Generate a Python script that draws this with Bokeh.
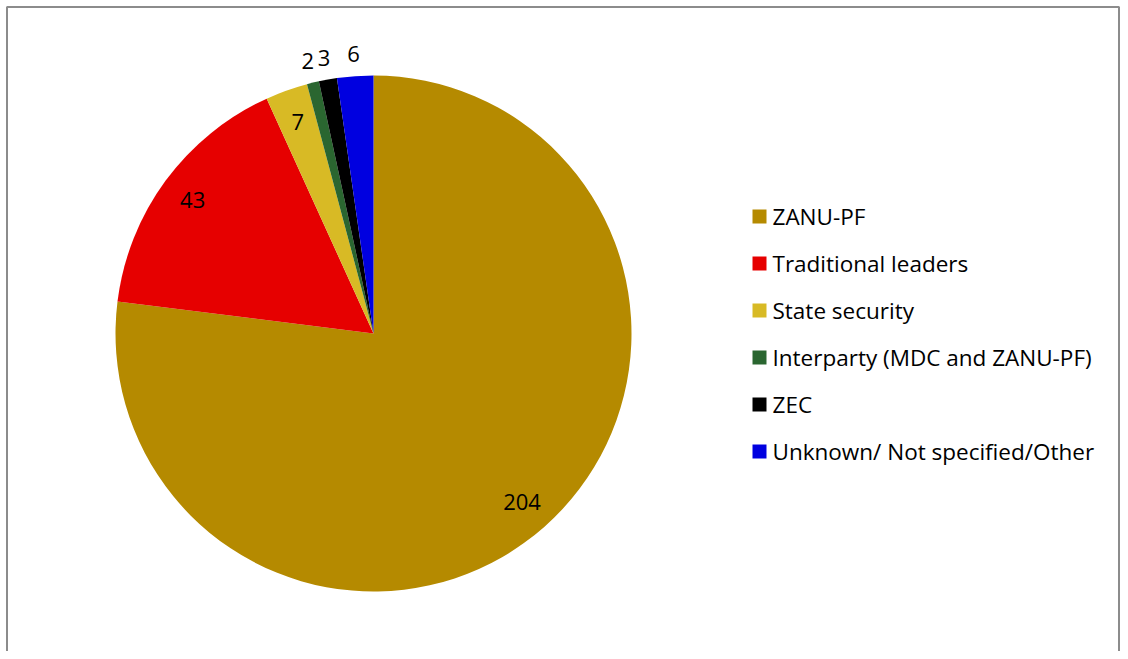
import math
from bokeh.plotting import figure
from bokeh.models import Range1d, ColumnDataSource
from bokeh.core.properties import value
from bokeh.embed import file_html
from bokeh.resources import INLINE

categories = ["ZANU-PF", "Traditional leaders", "State security",
              "Interparty (MDC and ZANU-PF)", "ZEC", "Unknown/ Not specified/Other"]
counts = [204, 43, 7, 2, 3, 6]
colors = ["#B58A00", "#E60000", "#D8BA25", "#2A6630", "#000000", "#0000E0"]
outside = [False, False, False, True, True, True]

W, H = 1120, 651
FONT = "Open Sans"

p = figure(width=W, height=H, x_range=Range1d(0, W), y_range=Range1d(0, H),
           output_backend="svg", toolbar_location=None, min_border=0)
p.axis.visible = False
p.grid.visible = False
p.outline_line_color = None
p.background_fill_color = "white"

def sy(y):  # screen y -> data y
    return H - y
def sx(x):
    return x

# frame
p.quad(left=[sx(6.5)], right=[sx(1118.5)], top=[sy(6.5)], bottom=[sy(700)],
       fill_color=None, line_color="#8C8C8C", line_width=2)

cx, cy, R = sx(373), sy(333), 258
total = sum(counts)
starts, ends, lx, ly = [], [], [], []
cum = 0
for c, out in zip(counts, outside):
    a0 = math.pi / 2 - 2 * math.pi * (cum + c) / total
    a1 = math.pi / 2 - 2 * math.pi * cum / total
    starts.append(a0)
    ends.append(a1)
    mid = (a0 + a1) / 2
    rr = R + 22 if out else R * 0.87
    lx.append(cx + rr * math.cos(mid))
    ly.append(cy + rr * math.sin(mid))
    cum += c

src = ColumnDataSource(dict(start=starts, end=ends, color=colors, x=lx, y=ly,
                            label=[str(c) for c in counts]))
p.wedge(x=cx, y=cy, radius=R, start_angle="start", end_angle="end",
        fill_color="color", line_color=None, source=src)
p.text(x="x", y="y", text="label", source=src, text_align="center", text_baseline="middle",
       text_font=value(FONT), text_font_size="22px", text_color="#000000")

# legend
ly0 = [sy(216 + 47 * i) for i in range(len(categories))]
p.scatter(x=[sx(759)] * len(categories), y=ly0, marker="square", size=14,
          fill_color=colors, line_color=None)
p.text(x=[sx(772)] * len(categories), y=ly0, text=categories, text_align="left",
       text_baseline="middle", text_font=value(FONT), text_font_size="22.5px", text_color="#000000")

open("out.html", "w").write(file_html(p, INLINE))
